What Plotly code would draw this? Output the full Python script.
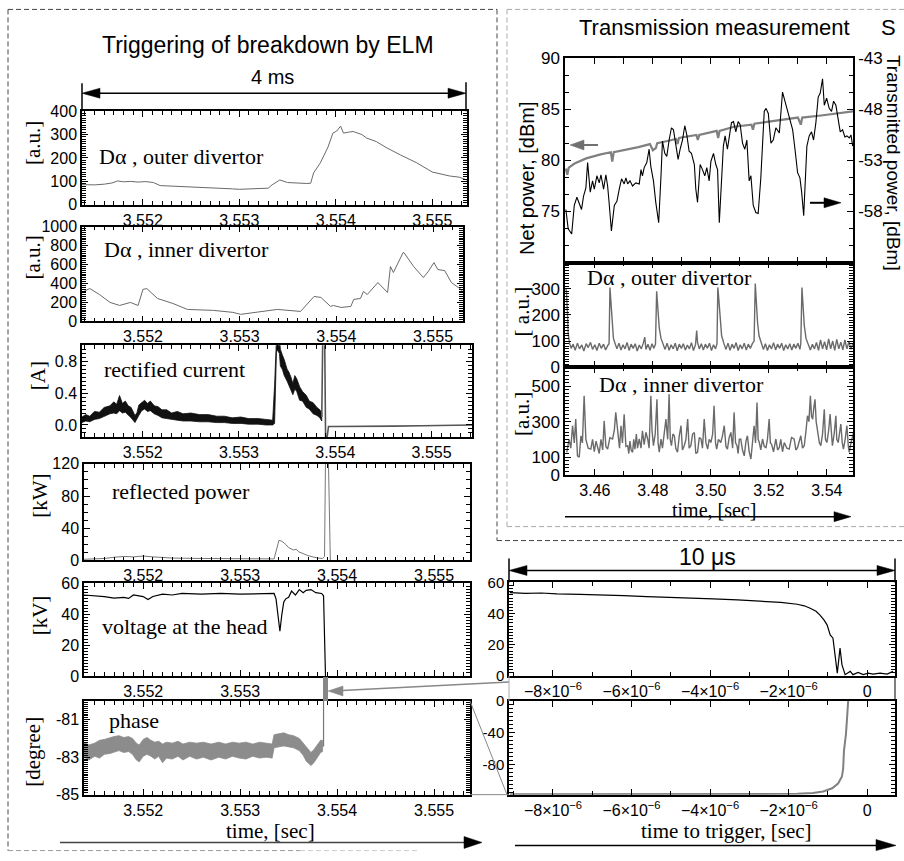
import plotly.graph_objects as go

# ======================= DATA =======================
# ---- left column: 4 ms window (time in s) ----
LEFT_XTICKS = [3.552, 3.553, 3.554, 3.555]
LEFT_XLABELS = ["3.552", "3.553", "3.554", "3.555"]

od_left = [(3.55137, 86), (3.55150, 85), (3.55160, 88), (3.55168, 93), (3.55174, 102), (3.55180, 98),
           (3.55187, 100), (3.55195, 97), (3.55203, 99), (3.55211, 95), (3.55218, 82), (3.55230, 80),
           (3.55245, 78), (3.55260, 76), (3.55272, 74), (3.55285, 70), (3.55293, 68), (3.55300, 66),
           (3.55310, 68), (3.55320, 70), (3.55330, 71), (3.55334, 85), (3.55342, 106), (3.55350, 95),
           (3.55357, 93), (3.55363, 90), (3.55370, 91), (3.55374, 92), (3.55377, 136), (3.55384, 179),
           (3.55389, 221), (3.55392, 247), (3.55397, 306), (3.55401, 315), (3.55405, 336), (3.55408, 306),
           (3.55413, 310), (3.55418, 313), (3.55427, 300), (3.55432, 285), (3.55442, 270), (3.55452, 245),
           (3.55467, 213), (3.55484, 179), (3.55500, 140), (3.55518, 123), (3.55528, 118), (3.55536, 106)]

id_left = [(3.55137, 305), (3.55145, 347), (3.55155, 284), (3.55166, 200), (3.55176, 168), (3.55187, 200),
           (3.55195, 168), (3.55200, 337), (3.55204, 347), (3.55215, 242), (3.55231, 189), (3.55246, 126),
           (3.55273, 116), (3.55293, 95), (3.55301, 74), (3.55321, 105), (3.55339, 126), (3.55363, 105),
           (3.55377, 263), (3.55384, 253), (3.55394, 158), (3.55397, 168), (3.55405, 147), (3.55415, 158),
           (3.55418, 232), (3.55425, 242), (3.55428, 316), (3.55432, 284), (3.55435, 316), (3.55443, 410),
           (3.55453, 305), (3.55456, 579), (3.55459, 516), (3.55469, 726), (3.55470, 726), (3.55480, 579),
           (3.55490, 463), (3.55495, 526), (3.55501, 621), (3.55505, 547), (3.55512, 537), (3.55519, 410),
           (3.55529, 337), (3.55531, 305)]

# rectified current: noisy band (time, lower, upper) then the tail after breakdown
cur_band = [(3.55137, 0.03, 0.10), (3.55141, 0.05, 0.13), (3.55145, 0.04, 0.11), (3.55150, 0.07, 0.17),
            (3.55155, 0.08, 0.16), (3.55160, 0.11, 0.22), (3.55166, 0.14, 0.24), (3.55170, 0.15, 0.29),
            (3.55173, 0.14, 0.26), (3.55176, 0.18, 0.37), (3.55179, 0.15, 0.27), (3.55182, 0.16, 0.30),
            (3.55185, 0.12, 0.24), (3.55188, 0.09, 0.22), (3.55192, 0.03, 0.12), (3.55194, 0.07, 0.15),
            (3.55196, 0.12, 0.25), (3.55199, 0.18, 0.28), (3.55202, 0.20, 0.31), (3.55205, 0.17, 0.27),
            (3.55208, 0.18, 0.30), (3.55212, 0.14, 0.24), (3.55216, 0.12, 0.23), (3.55220, 0.09, 0.19),
            (3.55225, 0.08, 0.19), (3.55230, 0.07, 0.15), (3.55236, 0.06, 0.17), (3.55242, 0.05, 0.14),
            (3.55250, 0.05, 0.15), (3.55259, 0.04, 0.13), (3.55268, 0.04, 0.13), (3.55277, 0.03, 0.11),
            (3.55285, 0.03, 0.11), (3.55293, 0.02, 0.09), (3.55302, 0.02, 0.10), (3.55310, 0.01, 0.08),
            (3.55320, 0.01, 0.08), (3.55328, 0.00, 0.07), (3.55335, 0.00, 0.06), (3.55337, 0.02, 0.50),
            (3.55339, 0.95, 1.10), (3.55342, 0.90, 1.10), (3.55343, 0.74, 0.95), (3.55345, 0.70, 0.88),
            (3.55347, 0.62, 0.82), (3.55350, 0.55, 0.70), (3.55352, 0.50, 0.66), (3.55354, 0.44, 0.60),
            (3.55356, 0.38, 0.52), (3.55358, 0.45, 0.62), (3.55360, 0.42, 0.58), (3.55363, 0.31, 0.48),
            (3.55366, 0.30, 0.42), (3.55370, 0.22, 0.37), (3.55373, 0.20, 0.30), (3.55377, 0.14, 0.28),
            (3.55381, 0.12, 0.22), (3.55384, 0.09, 0.19), (3.55386, 0.05, 0.15)]
cur_tail = [(3.55386, 0.10), (3.55387, 1.10), (3.55389, 1.10), (3.55390, -0.20), (3.55391, -0.20),
            (3.55393, -0.02), (3.55400, -0.02), (3.55430, -0.02), (3.55460, -0.015), (3.55490, -0.01),
            (3.55520, -0.005), (3.55542, 0.0)]

refl = [(3.55139, 1.5), (3.55160, 2.5), (3.55170, 4), (3.55180, 5), (3.55190, 4.5), (3.55200, 5.5),
        (3.55210, 4.5), (3.55230, 3), (3.55260, 2.5), (3.55300, 2), (3.55330, 2), (3.55335, 2),
        (3.55340, 25), (3.55343, 24), (3.55347, 20), (3.55350, 16), (3.55355, 13), (3.55358, 14),
        (3.55360, 11), (3.55370, 6), (3.55380, 3), (3.55385, 2.5), (3.55387, 5), (3.55388, 125),
        (3.55391, 125), (3.55393, 0), (3.55537, 0)]

volt = [(3.55139, 52.5), (3.55150, 52.0), (3.55160, 51.5), (3.55170, 50.5), (3.55180, 51.0),
        (3.55185, 50.3), (3.55190, 52.5), (3.55200, 51.5), (3.55205, 49.5), (3.55210, 51.5),
        (3.55220, 53.0), (3.55230, 52.5), (3.55240, 53.5), (3.55260, 53.0), (3.55280, 53.5),
        (3.55300, 53.0), (3.55320, 53.5), (3.55335, 53.5), (3.55337, 50), (3.55339, 40),
        (3.55341, 29), (3.55343, 40), (3.55345, 48), (3.55347, 50), (3.55350, 51), (3.55353, 55),
        (3.55357, 52.5), (3.55361, 56), (3.55365, 54), (3.55368, 55.5), (3.55373, 56), (3.55378, 54),
        (3.55384, 53.5), (3.55386, 52), (3.55388, 0)]

# phase: noisy band (time, lower, upper) and the jump at breakdown
ph_band = [(3.55139, -83.0, -82.2), (3.55144, -83.15, -82.35), (3.55150, -82.95, -82.25),
           (3.55155, -83.05, -82.1), (3.55160, -82.85, -82.05), (3.55166, -82.8, -81.95),
           (3.55170, -82.75, -81.9), (3.55175, -82.65, -81.85), (3.55180, -82.75, -81.95),
           (3.55185, -82.7, -81.9), (3.55189, -82.85, -82.0), (3.55193, -83.15, -82.25),
           (3.55196, -83.25, -82.35), (3.55200, -82.95, -82.05), (3.55204, -82.85, -81.95),
           (3.55208, -82.95, -82.1), (3.55212, -83.1, -82.2), (3.55216, -82.95, -82.15),
           (3.55220, -83.3, -82.3), (3.55224, -83.05, -82.2), (3.55230, -83.1, -82.25),
           (3.55236, -82.95, -82.15), (3.55241, -83.15, -82.3), (3.55248, -82.95, -82.2),
           (3.55255, -83.1, -82.25), (3.55262, -83.0, -82.2), (3.55270, -83.15, -82.3),
           (3.55278, -83.0, -82.2), (3.55285, -83.1, -82.3), (3.55292, -82.95, -82.2),
           (3.55299, -83.05, -82.25), (3.55306, -83.1, -82.2), (3.55313, -82.95, -82.3),
           (3.55320, -83.05, -82.2), (3.55327, -83.0, -82.25), (3.55333, -83.05, -82.3),
           (3.55335, -82.5, -81.8), (3.55340, -82.45, -81.75), (3.55345, -82.4, -81.7),
           (3.55350, -82.45, -81.8), (3.55355, -82.5, -81.85), (3.55361, -82.65, -82.0),
           (3.55365, -82.9, -82.25), (3.55368, -83.2, -82.5), (3.55373, -83.45, -82.75),
           (3.55376, -83.3, -82.6), (3.55378, -83.1, -82.45), (3.55381, -82.9, -82.25),
           (3.55383, -82.75, -82.1), (3.55385, -82.7, -82.1)]
ph_jump = [(3.55385, -82.4), (3.55386, -82.4), (3.55386, -79.0)]

# ---- right column: transmission measurement (time in s) ----
RIGHT_XTICKS = [3.46, 3.48, 3.50, 3.52, 3.54]
RIGHT_XLABELS = ["3.46", "3.48", "3.50", "3.52", "3.54"]
net_power = [(3.4500, 79.2), (3.4505, 78.6), (3.4510, 79.3), (3.4530, 79.7), (3.4570, 80.2),
             (3.4620, 80.6), (3.4655, 80.8), (3.4660, 79.9), (3.4665, 80.8), (3.4700, 81.0),
             (3.4750, 81.3), (3.4790, 81.6), (3.4800, 81.0), (3.4810, 81.2), (3.4815, 81.7),
             (3.4850, 81.9), (3.4880, 82.1), (3.4885, 81.6), (3.4890, 82.2), (3.4950, 82.5),
             (3.4955, 82.0), (3.4960, 82.5), (3.5020, 82.9), (3.5025, 82.2), (3.5030, 82.9),
             (3.5080, 83.3), (3.5140, 83.5), (3.5145, 83.0), (3.5150, 83.6), (3.5200, 83.8),
             (3.5250, 84.0), (3.5300, 84.2), (3.5310, 83.5), (3.5315, 84.2), (3.5380, 84.4),
             (3.5430, 84.6), (3.5490, 84.8)]

transmitted = [(3.4500, -57.8), (3.4508, -59.7), (3.4520, -60.2), (3.4529, -57.4), (3.4538, -56.6),
               (3.4546, -57.3), (3.4554, -57.8), (3.4561, -56.5), (3.4569, -55.7), (3.4575, -53.2),
               (3.4584, -56.1), (3.4592, -55.0), (3.4598, -55.8), (3.4607, -54.5), (3.4615, -55.2),
               (3.4621, -54.4), (3.4630, -55.8), (3.4638, -54.4), (3.4644, -55.5), (3.4649, -57.1),
               (3.4657, -59.9), (3.4667, -57.4), (3.4676, -57.0), (3.4684, -55.8), (3.4692, -54.8),
               (3.4701, -55.3), (3.4707, -54.7), (3.4713, -55.3), (3.4721, -55.0), (3.4730, -55.5),
               (3.4741, -55.2), (3.4753, -55.3), (3.4759, -53.9), (3.4764, -54.5), (3.4770, -53.7),
               (3.4779, -53.2), (3.4787, -51.9), (3.4793, -53.6), (3.4802, -55.0), (3.4810, -57.1),
               (3.4820, -59.1), (3.4828, -54.5), (3.4833, -51.1), (3.4841, -52.3), (3.4848, -52.6),
               (3.4856, -51.0), (3.4864, -49.8), (3.4871, -50.0), (3.4879, -51.6), (3.4887, -52.9),
               (3.4894, -51.9), (3.4902, -51.0), (3.4910, -49.6), (3.4917, -50.5), (3.4925, -52.1),
               (3.4933, -52.3), (3.4943, -53.4), (3.4948, -55.8), (3.4954, -57.1), (3.4963, -53.4),
               (3.4971, -53.9), (3.4979, -54.5), (3.4986, -53.7), (3.4994, -55.0), (3.5000, -53.1),
               (3.5009, -52.3), (3.5017, -53.4), (3.5023, -53.9), (3.5029, -59.1), (3.5034, -56.8),
               (3.5043, -51.6), (3.5049, -50.6), (3.5057, -51.9), (3.5066, -50.2), (3.5071, -49.3),
               (3.5078, -49.2), (3.5086, -50.2), (3.5094, -49.2), (3.5101, -49.5), (3.5109, -51.3),
               (3.5117, -51.9), (3.5124, -51.0), (3.5132, -55.0), (3.5138, -54.5), (3.5146, -57.4),
               (3.5155, -58.1), (3.5163, -58.2), (3.5172, -54.8), (3.5178, -51.3), (3.5184, -48.2),
               (3.5190, -47.9), (3.5198, -48.4), (3.5207, -51.3), (3.5215, -51.0), (3.5224, -49.8),
               (3.5236, -50.3), (3.5247, -46.3), (3.5255, -47.1), (3.5264, -48.2), (3.5274, -49.0),
               (3.5282, -50.0), (3.5290, -51.9), (3.5299, -54.2), (3.5307, -54.7), (3.5313, -56.1),
               (3.5320, -58.4), (3.5324, -55.2), (3.5331, -51.6), (3.5339, -50.6), (3.5347, -50.2),
               (3.5354, -51.0), (3.5362, -49.3), (3.5370, -46.8), (3.5377, -46.4), (3.5385, -45.0),
               (3.5391, -47.6), (3.5399, -46.9), (3.5408, -47.9), (3.5416, -48.2), (3.5423, -47.2),
               (3.5431, -47.6), (3.5439, -49.0), (3.5446, -50.2), (3.5454, -50.0), (3.5462, -50.7),
               (3.5469, -50.6), (3.5477, -50.8), (3.5483, -50.5), (3.5489, -51.6)]

od_right = [(3.4500, 300), (3.4502, 290), (3.4505, 220), (3.4508, 130), (3.4512, 95), (3.4518, 72),
            (3.4525, 88), (3.4532, 65), (3.4540, 92), (3.4547, 70), (3.4555, 85), (3.4562, 62),
            (3.4570, 90), (3.4577, 75), (3.4585, 95), (3.4592, 68), (3.4600, 86), (3.4607, 64),
            (3.4615, 92), (3.4622, 72), (3.4630, 88), (3.4637, 66), (3.4645, 84), (3.4649, 90),
            (3.4652, 305), (3.4655, 250), (3.4659, 180), (3.4664, 110), (3.4670, 90), (3.4676, 70),
            (3.4683, 92), (3.4690, 66), (3.4697, 86), (3.4704, 70), (3.4711, 95), (3.4718, 64),
            (3.4725, 88), (3.4732, 72), (3.4739, 90), (3.4746, 62), (3.4753, 85), (3.4760, 70),
            (3.4767, 92), (3.4772, 115), (3.4776, 68), (3.4783, 88), (3.4790, 65), (3.4797, 90),
            (3.4803, 72), (3.4809, 88), (3.4813, 290), (3.4817, 220), (3.4822, 150), (3.4828, 110),
            (3.4835, 90), (3.4842, 68), (3.4849, 92), (3.4856, 65), (3.4863, 86), (3.4870, 70),
            (3.4877, 92), (3.4884, 63), (3.4891, 88), (3.4898, 72), (3.4905, 90), (3.4912, 66),
            (3.4919, 85), (3.4926, 70), (3.4933, 94), (3.4940, 64), (3.4947, 86), (3.4951, 140),
            (3.4954, 95), (3.4960, 70), (3.4967, 90), (3.4974, 66), (3.4981, 88), (3.4988, 72),
            (3.4995, 92), (3.5002, 64), (3.5009, 86), (3.5016, 70), (3.5021, 90), (3.5024, 305),
            (3.5028, 250), (3.5032, 170), (3.5037, 120), (3.5045, 90), (3.5052, 68), (3.5059, 92),
            (3.5066, 65), (3.5073, 88), (3.5080, 72), (3.5087, 94), (3.5094, 64), (3.5101, 86),
            (3.5108, 70), (3.5115, 92), (3.5122, 66), (3.5129, 88), (3.5136, 72), (3.5143, 90),
            (3.5149, 100), (3.5153, 320), (3.5156, 260), (3.5161, 170), (3.5166, 120), (3.5174, 95),
            (3.5181, 68), (3.5188, 90), (3.5195, 64), (3.5202, 86), (3.5209, 70), (3.5216, 94),
            (3.5223, 66), (3.5230, 88), (3.5237, 72), (3.5244, 92), (3.5251, 64), (3.5258, 86),
            (3.5265, 70), (3.5272, 90), (3.5279, 66), (3.5286, 88), (3.5293, 72), (3.5300, 92),
            (3.5307, 68), (3.5310, 90), (3.5314, 305), (3.5317, 250), (3.5322, 160), (3.5328, 110),
            (3.5336, 90), (3.5343, 66), (3.5350, 88), (3.5357, 70), (3.5364, 95), (3.5371, 64),
            (3.5378, 104), (3.5385, 70), (3.5392, 98), (3.5399, 66), (3.5406, 108), (3.5413, 70),
            (3.5420, 100), (3.5427, 64), (3.5434, 106), (3.5441, 70), (3.5448, 96), (3.5455, 66),
            (3.5462, 104), (3.5469, 70), (3.5476, 98), (3.5483, 68), (3.5490, 92)]

id_right = [(3.4503, 127), (3.4511, 200), (3.4517, 150), (3.4523, 277), (3.4529, 180), (3.4534, 314),
            (3.4540, 107), (3.4546, 99), (3.4552, 220), (3.4557, 180), (3.4563, 446), (3.4569, 200),
            (3.4577, 150), (3.4586, 145), (3.4592, 200), (3.4598, 130), (3.4604, 190), (3.4609, 164),
            (3.4615, 120), (3.4621, 200), (3.4627, 140), (3.4632, 304), (3.4638, 160), (3.4644, 145),
            (3.4652, 210), (3.4661, 202), (3.4667, 250), (3.4672, 352), (3.4680, 202), (3.4685, 150),
            (3.4690, 277), (3.4695, 180), (3.4701, 342), (3.4707, 160), (3.4713, 164), (3.4717, 120),
            (3.4721, 190), (3.4725, 140), (3.4730, 127), (3.4734, 200), (3.4738, 145), (3.4743, 230),
            (3.4747, 150), (3.4753, 202), (3.4759, 150), (3.4764, 248), (3.4770, 170), (3.4776, 240),
            (3.4782, 202), (3.4787, 150), (3.4793, 446), (3.4797, 250), (3.4802, 164), (3.4808, 230),
            (3.4814, 426), (3.4818, 180), (3.4822, 127), (3.4828, 202), (3.4833, 150), (3.4839, 240),
            (3.4845, 314), (3.4851, 200), (3.4856, 455), (3.4860, 200), (3.4864, 164), (3.4869, 230),
            (3.4874, 220), (3.4879, 150), (3.4885, 127), (3.4891, 220), (3.4897, 277), (3.4902, 140),
            (3.4908, 164), (3.4914, 200), (3.4920, 314), (3.4925, 150), (3.4931, 164), (3.4937, 230),
            (3.4943, 239), (3.4948, 120), (3.4954, 127), (3.4960, 210), (3.4966, 202), (3.4971, 150),
            (3.4977, 314), (3.4983, 180), (3.4989, 145), (3.4994, 200), (3.5000, 182), (3.5006, 230),
            (3.5011, 389), (3.5016, 180), (3.5020, 145), (3.5026, 200), (3.5034, 182), (3.5040, 220),
            (3.5046, 277), (3.5052, 160), (3.5057, 145), (3.5063, 210), (3.5069, 239), (3.5075, 150),
            (3.5080, 352), (3.5085, 180), (3.5090, 164), (3.5094, 120), (3.5098, 200), (3.5103, 202),
            (3.5109, 140), (3.5115, 107), (3.5121, 190), (3.5126, 220), (3.5132, 130), (3.5138, 89),
            (3.5144, 200), (3.5149, 277), (3.5154, 180), (3.5159, 408), (3.5163, 200), (3.5167, 182),
            (3.5172, 140), (3.5178, 202), (3.5184, 160), (3.5190, 154), (3.5195, 200), (3.5201, 314),
            (3.5205, 180), (3.5209, 173), (3.5216, 130), (3.5224, 202), (3.5230, 140), (3.5236, 154),
            (3.5241, 200), (3.5247, 130), (3.5253, 182), (3.5262, 150), (3.5270, 145), (3.5278, 210),
            (3.5287, 202), (3.5293, 140), (3.5299, 154), (3.5305, 200), (3.5310, 220), (3.5316, 150),
            (3.5322, 164), (3.5328, 250), (3.5333, 333), (3.5338, 300), (3.5343, 446), (3.5347, 330),
            (3.5351, 314), (3.5355, 380), (3.5359, 426), (3.5363, 300), (3.5368, 239), (3.5374, 180),
            (3.5379, 164), (3.5385, 230), (3.5391, 370), (3.5395, 200), (3.5400, 182), (3.5406, 250),
            (3.5411, 342), (3.5416, 200), (3.5419, 164), (3.5425, 230), (3.5431, 333), (3.5434, 200),
            (3.5439, 182), (3.5444, 240), (3.5448, 286), (3.5453, 180), (3.5457, 145), (3.5463, 200),
            (3.5469, 277), (3.5474, 160), (3.5477, 127), (3.5483, 180), (3.5487, 202), (3.5492, 239)]

# ---- bottom right: 10 us window (time to trigger, s) ----
ZOOM_XTICKS = [-8e-6, -6e-6, -4e-6, -2e-6, 0]
ZOOM_XLABELS = ["\u22128\u00d710<sup>\u22126</sup>", "\u22126\u00d710<sup>\u22126</sup>",
                "\u22124\u00d710<sup>\u22126</sup>", "\u22122\u00d710<sup>\u22126</sup>", "0"]
zoom_volt = [(-9.10e-6, 53.4), (-8.70e-6, 53.0), (-8.30e-6, 53.2), (-7.90e-6, 52.6), (-7.31e-6, 52.3),
             (-6.80e-6, 52.1), (-6.20e-6, 51.5), (-5.61e-6, 50.9), (-5.00e-6, 50.5), (-4.40e-6, 49.8),
             (-3.92e-6, 49.4), (-3.30e-6, 48.8), (-2.65e-6, 48.1), (-2.20e-6, 47.2), (-1.78e-6, 46.0),
             (-1.60e-6, 45.0), (-1.45e-6, 43.4), (-1.30e-6, 41.5), (-1.20e-6, 39.0), (-1.10e-6, 36.0),
             (-1.02e-6, 32.8), (-0.94e-6, 26.4), (-0.87e-6, 24.3), (-0.82e-6, 13.6), (-0.76e-6, 1.9),
             (-0.69e-6, 17.9), (-0.64e-6, 7.2), (-0.56e-6, 0.9), (-0.50e-6, 2.0), (-0.43e-6, 3.0),
             (-0.36e-6, 0.9), (-0.23e-6, 2.3), (-0.10e-6, 0.9), (0.03e-6, 1.9), (0.15e-6, 1.3),
             (0.33e-6, 1.9), (0.51e-6, 1.3), (0.66e-6, 3.0)]
zoom_phase = [(-9.10e-6, -117.5), (-6.0e-6, -117.5), (-3.0e-6, -117.5), (-2.2e-6, -117.3),
              (-1.78e-6, -117.0), (-1.38e-6, -116.0), (-1.12e-6, -114.0), (-0.89e-6, -110.0),
              (-0.74e-6, -104.0), (-0.64e-6, -95.0), (-0.61e-6, -85.0), (-0.59e-6, -63.0),
              (-0.54e-6, -42.0), (-0.51e-6, -21.0), (-0.48e-6, 2.0)]

# ======================= FIGURE =======================
W, H = 904, 861
# vertical placement correction (observed: rendered rows come out slightly squeezed)
SY_OFF, SY_SCALE = 8.5, 0.9815
def X(px): return px / W
def Y(py):
    v = 1 - ((py - SY_OFF) / SY_SCALE) / H
    return min(max(v, 0.0005), 0.9995)

SANS = "Liberation Sans"
SERIF = "Liberation Serif"
fig = go.Figure()

AX = dict(showline=True, linecolor="black", linewidth=1.5, mirror="allticks",
          ticks="inside", ticklen=6, tickwidth=1, tickcolor="black",
          showgrid=False, zeroline=False,
          tickfont=dict(family=SANS, size=16, color="black"))

def minor(d, t0):
    return dict(tickmode="linear", tick0=t0, dtick=d, ticks="inside", ticklen=4,
                tickwidth=1, tickcolor="black", showgrid=False)

def axes(i, box, xr, yr, xkw, ykw):
    l, t, r, b = box
    xn = "xaxis" if i == 1 else f"xaxis{i}"
    yn = "yaxis" if i == 1 else f"yaxis{i}"
    xa = dict(AX); xa.update(domain=[X(l), X(r)], anchor="y" if i == 1 else f"y{i}", range=xr); xa.update(xkw)
    ya = dict(AX); ya.update(domain=[Y(b), Y(t)], anchor="x" if i == 1 else f"x{i}", range=yr); ya.update(ykw)
    fig.update_layout(**{xn: xa, yn: ya})

def ref(i):
    return ("x", "y") if i == 1 else (f"x{i}", f"y{i}")

def line(i, pts, color, width, yax=None):
    xa, ya = ref(i)
    fig.add_trace(go.Scatter(x=[p[0] for p in pts], y=[p[1] for p in pts], mode="lines",
                             line=dict(color=color, width=width), xaxis=xa, yaxis=yax or ya,
                             hoverinfo="skip", showlegend=False))

def band(i, rows, color):
    xa, ya = ref(i)
    t = [r[0] for r in rows]
    lo = [r[1] for r in rows]
    hi = [r[2] for r in rows]
    fig.add_trace(go.Scatter(x=t + t[::-1], y=hi + lo[::-1], mode="lines",
                             fill="toself", fillcolor=color, line=dict(color=color, width=0.8),
                             xaxis=xa, yaxis=ya, hoverinfo="skip", showlegend=False))

LX = dict(tickvals=LEFT_XTICKS, ticktext=LEFT_XLABELS, minor=minor(0.0001, 3.551))
LXn = dict(LX); LXn["ticktext"] = ["3.552", "3.553", "", ""]

axes(1, (82, 111, 467, 205), [3.55137, 3.55536], [0, 400], LX,
     dict(tickvals=[0, 100, 200, 300, 400], minor=minor(10, 0)))
axes(2, (82, 227, 463, 322), [3.55137, 3.55531], [0, 1000], LX,
     dict(tickvals=[0, 200, 400, 600, 800, 1000], minor=minor(20, 0)))
axes(3, (82, 346, 472, 438), [3.55137, 3.55542], [-0.15, 1.0], LX,
     dict(tickvals=[0.0, 0.4, 0.8], ticktext=["0.0", "0.4", "0.8"], minor=minor(0.05, 0)))
axes(4, (84, 465, 470, 562), [3.55139, 3.55537], [0, 120], LX,
     dict(tickvals=[0, 40, 80, 120], minor=minor(10, 0)))
axes(5, (84, 585, 470, 678), [3.55139, 3.55537], [0, 60], LXn,
     dict(tickvals=[0, 20, 40, 60], minor=minor(2, 0)))
axes(6, (84, 703, 470, 797), [3.55139, 3.55537], [-85, -80], LX,
     dict(tickvals=[-85, -83, -81], ticktext=["-85", "-83", "-81"], minor=minor(0.1, -85)))

RX = dict(tickvals=RIGHT_XTICKS, ticktext=RIGHT_XLABELS,
          minor=minor(0.01, 3.45), tickfont=dict(family=SANS, size=16, color="black"))
RXn = dict(RX); RXn["showticklabels"] = False
RY = dict(tickfont=dict(family=SANS, size=17, color="black"))
axes(7, (565, 58, 853, 263), [3.4497, 3.549], [70, 90], RXn,
     dict(RY, tickvals=[75, 80, 85, 90], mirror=False, minor=minor(5 / 3, 70)))
axes(8, (565, 263, 853, 368), [3.4497, 3.549], [0, 400], RXn,
     dict(RY, tickvals=[0, 100, 200, 300], minor=minor(10, 0)))
axes(9, (565, 368, 853, 476), [3.4497, 3.549], [0, 607], RX,
     dict(RY, tickvals=[0, 100, 300, 500], minor=minor(20, 0)))
fig.update_layout(yaxis12=dict(AX, overlaying="y7", side="right", anchor="x7", range=[-63, -43],
                               mirror=False, tickvals=[-58, -53, -48, -43],
                               ticktext=["-58", "-53", "-48", "-43"], minor=minor(5 / 3, -63),
                               tickfont=dict(family=SANS, size=17, color="black")))

ZX = dict(tickvals=ZOOM_XTICKS, ticktext=ZOOM_XLABELS, minor=minor(1e-6, -9e-6),
          tickfont=dict(family=SANS, size=16, color="black"))
ZY = dict(tickfont=dict(family=SANS, size=15, color="black"))
axes(10, (509, 584, 895, 678), [-9.12e-6, 0.71e-6], [0, 60], ZX,
     dict(ZY, tickvals=[0, 20, 40, 60], minor=minor(2, 0)))
axes(11, (509, 703, 895, 797), [-9.12e-6, 0.71e-6], [-118, 0], ZX,
     dict(ZY, tickvals=[-80, -40, 0], ticktext=["-80", "-40", "0"], minor=minor(5, -120)))

GRAY = "#6a6a6a"
line(1, od_left, GRAY, 1)
line(2, id_left, GRAY, 1)
band(3, cur_band, "#111111")
line(3, cur_tail, "#555555", 1.6)
line(4, refl, "#777777", 1)
line(5, volt, "black", 1.2)
band(6, ph_band, "#8c8c8c")
line(6, ph_jump, "#777777", 1.2)
line(7, net_power, "#808080", 2.2)
line(7, transmitted, "black", 1.1, yax="y12")
line(8, od_right, GRAY, 1.4)
line(9, id_right, GRAY, 1.4)
line(10, zoom_volt, "black", 1.2)
line(11, zoom_phase, "#808080", 2)

# ---------------- annotations ----------------
anns = []
def text(s, px, py, size, family=SANS, xanchor="center", angle=0, color="black"):
    anns.append(dict(text=s, x=X(px), y=Y(py), xref="paper", yref="paper", showarrow=False,
                     xanchor=xanchor, yanchor="middle", textangle=angle,
                     font=dict(family=family, size=size, color=color)))

text("Triggering of breakdown by ELM", 268, 45, 23)
text("4 ms", 272, 77, 20)
text("Transmission measurement", 714, 27, 22)
text("S", 888, 27, 22)
text("10 \u03bcs", 707, 558, 23)
text("D\u03b1 , outer divertor", 97, 157, 22, SERIF, "left")
text("D\u03b1 , inner divertor", 102, 250, 22, SERIF, "left")
text("rectified current", 102, 370, 22, SERIF, "left")
text("reflected power", 110, 493, 22, SERIF, "left")
text("voltage at the head", 100, 628, 22, SERIF, "left")
text("phase", 107, 723, 22, SERIF, "left")
text("D\u03b1 , outer divertor", 585, 278, 22, SERIF, "left")
text("D\u03b1 , inner divertor", 597, 385, 22, SERIF, "left")
text("[a.u.]", 33, 143, 21, SERIF, angle=-90)
text("[a.u.]", 33, 258, 21, SERIF, angle=-90)
text("[A]", 38, 377, 21, SERIF, angle=-90)
text("[kW]", 40, 497, 21, SERIF, angle=-90)
text("[kV]", 40, 617, 21, SERIF, angle=-90)
text("[degree]", 33, 754, 21, SERIF, angle=-90)
text("Net power, [dBm]", 527, 179, 20, angle=-90)
text("Transmitted power, [dBm]", 893, 163, 19, angle=90)
text("[ a.u.]", 522, 312, 21, SERIF, angle=-90)
text("[a.u.]", 522, 415, 21, SERIF, angle=-90)
text("time, [sec]", 270, 833, 21, SERIF)
text("time, [sec]", 714, 511, 20, SERIF)
text("time to trigger, [sec]", 726, 833, 21, SERIF)
fig.update_layout(annotations=anns)

# ---------------- decorations (arrows, frames) ----------------
shapes = []
def seg(x0, y0, x1, y1, color="black", width=1.5, dash=None):
    ln = dict(color=color, width=width)
    if dash:
        ln["dash"] = dash
    shapes.append(dict(type="line", xref="paper", yref="paper", x0=X(x0), y0=Y(y0), x1=X(x1), y1=Y(y1), line=ln))

def head(tx, ty, direction, length=18, half=5, color="black"):
    s = 1 if direction == "left" else -1
    p = f"M{X(tx)},{Y(ty)} L{X(tx + s * length)},{Y(ty - half)} L{X(tx + s * length)},{Y(ty + half)} Z"
    shapes.append(dict(type="path", xref="paper", yref="paper", path=p,
                       fillcolor=color, line=dict(color=color, width=0.5)))

DASH = "5px,3px"
seg(8, 5, 8, 858, "#444444", 1, DASH)
seg(8, 5, 497, 5, "#444444", 1, DASH)
seg(497, 5, 497, 542, "#444444", 1, DASH)
seg(497, 542, 904, 542, "#444444", 1, DASH)
seg(8, 859, 300, 859, "#999999", 1, DASH)
seg(300, 859, 420, 859, "#cccccc", 1, DASH)
seg(507, 5, 507, 528, "#aaaaaa", 1, DASH)
seg(507, 5, 904, 5, "#aaaaaa", 1, DASH)
seg(507, 528, 904, 528, "#aaaaaa", 1, DASH)

seg(96, 93, 452, 93, "black", 1.5)
head(82, 93, "left"); head(466, 93, "right")
seg(82, 83, 82, 111, "black", 1.5); seg(466, 82, 466, 111, "black", 1.5)
seg(523, 572, 881, 572, "black", 1.5)
head(509, 572, "left"); head(895, 572, "right")
seg(509, 560, 509, 584, "black", 1.5); seg(895, 560, 895, 584, "black", 1.5)
seg(60, 845, 466, 845, "#444444", 1.5); head(482, 845, "right", 18, 6)
seg(565, 518, 836, 518, "black", 1.5); head(851, 518, "right", 17, 5)
seg(515, 848, 878, 848, "black", 1.5); head(896, 848, "right", 20, 6)
seg(582, 145, 598, 145, "#707070", 2); head(570, 145, "left", 14, 5, "#707070")
seg(810, 203, 826, 203, "black", 2); head(841, 203, "right", 17, 5)
seg(509, 684, 342, 692.5, "#888888", 1.5); head(328, 693, "left", 15, 5, "#888888")
shapes.append(dict(type="rect", xref="paper", yref="paper", x0=X(323), y0=Y(703), x1=X(328), y1=Y(679),
                   fillcolor="#888888", line=dict(width=0)))
seg(470, 703, 507, 797, "#888888", 1)
seg(470, 797, 509, 797, "#888888", 1)
seg(509, 678, 509, 703, "#aaaaaa", 1)
seg(895, 678, 895, 703, "black", 1)
fig.update_layout(shapes=shapes)

fig.update_layout(width=W, height=H, margin=dict(l=0, r=0, t=0, b=0, pad=0),
                  paper_bgcolor="white", plot_bgcolor="white", showlegend=False)
fig.write_html("out.html")
